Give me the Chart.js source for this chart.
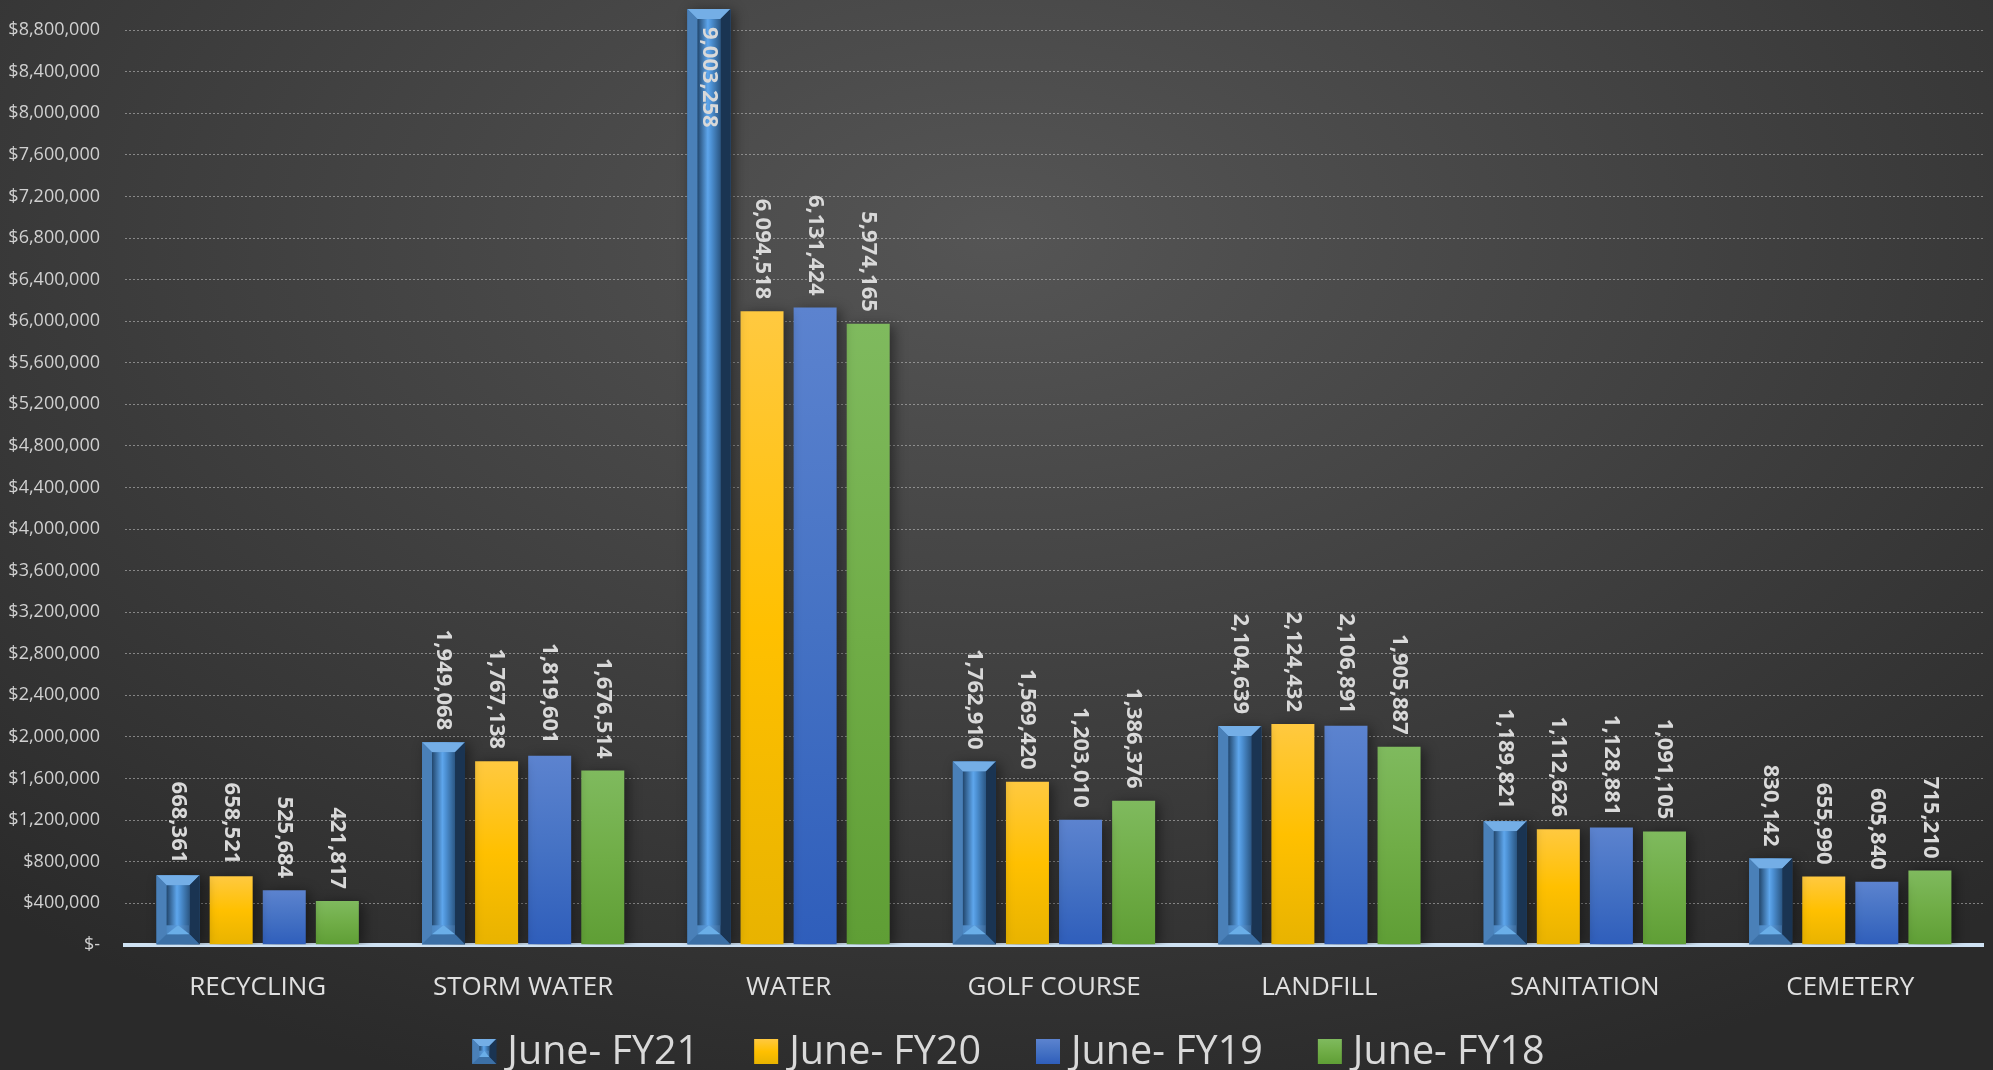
<!DOCTYPE html>
<html>
<head>
<meta charset="utf-8">
<script src="https://cdn.jsdelivr.net/npm/chart.js@4.4.1/dist/chart.umd.min.js"></script>
<style>
  html, body { margin:0; padding:0; width:1993px; height:1070px; overflow:hidden;
    background: radial-gradient(ellipse 75% 85% at 50% 22%, #555555 0%, #424242 45%, #2a2a2a 100%); }
  canvas { display:block; }
</style>
</head>
<body>
<canvas id="chart" width="1993" height="1070"></canvas>
<script>
// data
const categories = ['RECYCLING', 'STORM WATER', 'WATER', 'GOLF COURSE', 'LANDFILL', 'SANITATION', 'CEMETERY'];
const seriesLabels = ['June- FY21', 'June- FY20', 'June- FY19', 'June- FY18'];
const fy21 = [668361, 1949068, 9003258, 1762910, 2104639, 1189821, 830142];
const fy20 = [658521, 1767138, 6094518, 1569420, 2124432, 1112626, 655990];
const fy19 = [525684, 1819601, 6131424, 1203010, 2106891, 1128881, 605840];
const fy18 = [421817, 1676514, 5974165, 1386376, 1905887, 1091105, 715210];
const yTicks = [0, 400000, 800000, 1200000, 1600000, 2000000, 2400000, 2800000, 3200000, 3600000,
  4000000, 4400000, 4800000, 5200000, 5600000, 6000000, 6400000, 6800000, 7200000, 7600000,
  8000000, 8400000, 8800000];
const yMax = 9090000;

const FONT = '"Open Sans", "DejaVu Sans", sans-serif';
const TEXT_COLOR = '#d9d9d9';

// top / mid / bottom colours of each flat series
const palettes = [
  ['#4a86c5', '#4a86c5', '#2f5f92'],
  ['#ffc940', '#ffc000', '#e8b300'],
  ['#5c83cf', '#4572c4', '#2f5ebb'],
  ['#7fba5e', '#70ad47', '#5f9e35']
];

function barGradient(stops) {
  return function(ctx) {
    const chart = ctx.chart;
    if (ctx.type !== 'data' || !chart.chartArea) return stops[1];
    const y = chart.scales.y;
    const top = y.getPixelForValue(ctx.raw);
    const bottom = y.getPixelForValue(0);
    if (!isFinite(top) || !isFinite(bottom) || top === bottom) return stops[1];
    const g = chart.ctx.createLinearGradient(0, top, 0, bottom);
    g.addColorStop(0, stops[0]);
    g.addColorStop(0.5, stops[1]);
    g.addColorStop(1, stops[2]);
    return g;
  };
}

function poly(c, pts, color) {
  c.beginPath();
  c.moveTo(pts[0][0], pts[0][1]);
  for (let i = 1; i < pts.length; i++) c.lineTo(pts[i][0], pts[i][1]);
  c.closePath();
  c.fillStyle = color;
  c.fill();
}

// bevelled block look of the FY21 bars
function drawBevel(c, x0, y0, x1, y1, b) {
  let g = c.createLinearGradient(x0, 0, x1, 0);
  g.addColorStop(0, '#3f74aa');
  g.addColorStop(0.5, '#5a9bdc');
  g.addColorStop(1, '#1d3a5c');
  c.fillStyle = g;
  c.fillRect(x0, y0, x1 - x0, y1 - y0);
  poly(c, [[x0, y0], [x1, y0], [x1 - b, y0 + b], [x0 + b, y0 + b]], '#74aee6');
  poly(c, [[x0, y0], [x0 + b, y0 + b], [x0 + b, y1 - b], [x0, y1]], '#4a80b8');
  poly(c, [[x1, y0], [x1, y1], [x1 - b, y1 - b], [x1 - b, y0 + b]], '#1a3452');
  poly(c, [[x0, y1], [x0 + b, y1 - b], [x1 - b, y1 - b], [x1, y1]], '#3c70a6');
  // little lit wedge at the bottom
  const mx = (x0 + x1) / 2;
  poly(c, [[x0 + b, y1 - b], [mx, y1 - b - b * 0.9], [x1 - b, y1 - b]], '#6aaee8');
  g = c.createLinearGradient(x0 + b, 0, x1 - b, 0);
  g.addColorStop(0, '#22466c');
  g.addColorStop(0.45, '#5ea6ec');
  g.addColorStop(0.6, '#4d91d4');
  g.addColorStop(1, '#2b5784');
  c.fillStyle = g;
  c.fillRect(x0 + b, y0 + b, x1 - x0 - 2 * b, Math.max(0, y1 - y0 - 2 * b - b * 0.9));
}

const barDecor = {
  id: 'barDecor',
  beforeDatasetsDraw(chart) {
    const c = chart.ctx;
    c.save();
    c.shadowColor = 'rgba(0,0,0,0.45)';
    c.shadowBlur = 12;
    c.shadowOffsetX = 4;
    c.shadowOffsetY = 2;
  },
  afterDatasetsDraw(chart) {
    const c = chart.ctx;
    c.restore();
    const area = chart.chartArea;

    // FY21 bevels
    chart.getDatasetMeta(0).data.forEach(bar => {
      const half = bar.width / 2;
      const b = Math.min(10, bar.width * 0.24);
      drawBevel(c, bar.x - half, bar.y, bar.x + half, bar.base, b);
    });

    // rotated value labels
    c.save();
    c.font = 'bold 22px ' + FONT;
    c.fillStyle = TEXT_COLOR;
    c.textBaseline = 'middle';
    chart.data.datasets.forEach((ds, di) => {
      chart.getDatasetMeta(di).data.forEach((bar, i) => {
        const txt = ds.data[i].toLocaleString('en-US');
        const w = c.measureText(txt).width;
        c.save();
        const end = bar.y - 12;
        if (end - w < area.top) {
          c.translate(bar.x, bar.y + 18);
          c.rotate(Math.PI / 2);
          c.textAlign = 'left';
        } else {
          c.translate(bar.x, end);
          c.rotate(Math.PI / 2);
          c.textAlign = 'right';
        }
        c.fillText(txt, 0, 0);
        c.restore();
      });
    });
    c.restore();
  },
  afterDraw(chart) {
    // legend row at the bottom
    const c = chart.ctx;
    c.save();
    c.font = '39.5px ' + FONT;
    c.textBaseline = 'alphabetic';
    const box = 24, gap = 11, between = 55;
    const widths = seriesLabels.map(t => c.measureText(t).width);
    const total = widths.reduce((a, w) => a + box + gap + w, 0) + between * (seriesLabels.length - 1);
    let x = chart.width / 2 + 12 - total / 2;
    const base = 1064;
    seriesLabels.forEach((t, i) => {
      const by = base - 25;
      if (i === 0) {
        drawBevel(c, x, by, x + box, base, 7);
      } else {
        const g = c.createLinearGradient(0, by, 0, base);
        g.addColorStop(0, palettes[i][0]);
        g.addColorStop(0.5, palettes[i][1]);
        g.addColorStop(1, palettes[i][2]);
        c.fillStyle = g;
        c.fillRect(x, by, box, 25);
      }
      c.fillStyle = TEXT_COLOR;
      c.fillText(t, x + box + gap, base);
      x += box + gap + widths[i] + between;
    });
    c.restore();
  }
};

const seriesData = [fy21, fy20, fy19, fy18];

new Chart(document.getElementById('chart'), {
  type: 'bar',
  data: {
    labels: categories,
    datasets: seriesData.map((d, i) => ({
      label: seriesLabels[i],
      data: d,
      backgroundColor: barGradient(palettes[i]),
      borderWidth: 0,
      categoryPercentage: 0.8,
      barPercentage: 0.81
    }))
  },
  options: {
    responsive: false,
    animation: false,
    layout: { padding: { left: 0, right: 10, top: 0, bottom: 40 } },
    plugins: {
      legend: { display: false },
      tooltip: { enabled: false }
    },
    scales: {
      x: {
        grid: { display: false, drawTicks: false },
        border: { display: true, color: '#cfe2f3', width: 4 },
        ticks: { color: '#e0e0e0', font: { family: FONT, size: 26 }, padding: 27, maxRotation: 0 }
      },
      y: {
        min: 0,
        max: yMax,
        afterBuildTicks: s => { s.ticks = yTicks.map(v => ({ value: v })); },
        afterFit: s => { s.paddingTop = 0; s.paddingBottom = 0; s.width = 125; },
        grid: { color: 'rgba(200,200,200,0.55)', lineWidth: 1, drawTicks: false },
        border: { display: false, dash: [2, 2] },
        ticks: {
          color: '#d0d0d0',
          padding: 25,
          autoSkip: false,
          font: { family: FONT, size: 18 },
          callback: v => v === 0 ? '$-' : '$' + v.toLocaleString('en-US')
        }
      }
    }
  },
  plugins: [barDecor]
});
</script>
</body>
</html>
